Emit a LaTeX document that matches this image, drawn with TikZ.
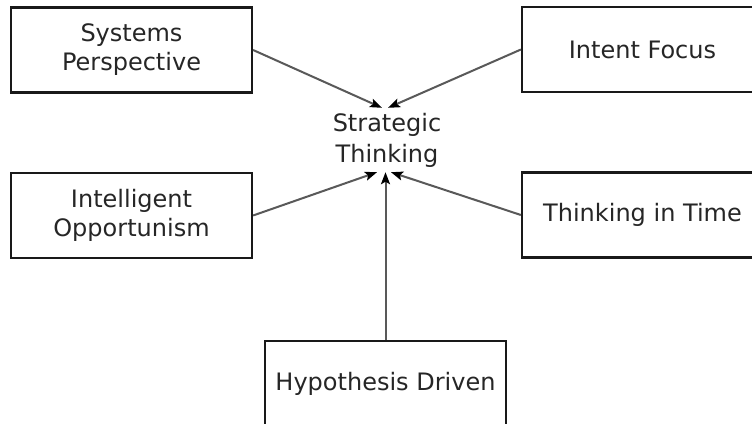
\documentclass[tikz,border=0pt]{standalone}
\usepackage{fontspec}
\setmainfont{DejaVu Sans}
\usetikzlibrary{arrows.meta}
\begin{document}
\begin{tikzpicture}[x=1pt,y=-1pt,
  box/.style={draw=black!90,line width=2.2pt,minimum width=241pt,minimum height=85pt,inner sep=0pt,align=center,font=\fontsize{24}{29}\selectfont,text=black!85},
  conn/.style={draw=black!65,line width=2pt,-{Stealth[length=12pt,width=9pt,inset=2.5pt,black]}}]
\useasboundingbox (0,0) rectangle (752,423);
\clip (0,0) rectangle (752,423);
\fill[white] (0,0) rectangle (752,423);
\node[box] (sp) at (131.5,50) {Systems\\Perspective};
\node[box] (if) at (642.5,49.5) {Intent Focus};
\node[box] (io) at (131.5,215.5) {Intelligent\\Opportunism};
\node[box] (tt) at (642.5,215) {Thinking in Time};
\node[box] (hd) at (385.5,383.5) {Hypothesis Driven};
\node[inner sep=0pt,minimum height=64pt,align=center,font=\fontsize{24}{31}\selectfont,text=black!85] (st) at (387,140) {Strategic\\Thinking};
\draw[conn] (sp.east) -- ([xshift=-5pt]st.north);
\draw[conn] (if.west) -- ([xshift=1pt]st.north);
\draw[conn] (io.east) -- ([xshift=-10pt]st.south);
\draw[conn] (tt.west) -- ([xshift=4pt]st.south);
\draw[conn] (hd.north) -- ([xshift=-1.5pt]st.south);
\end{tikzpicture}
\end{document}
